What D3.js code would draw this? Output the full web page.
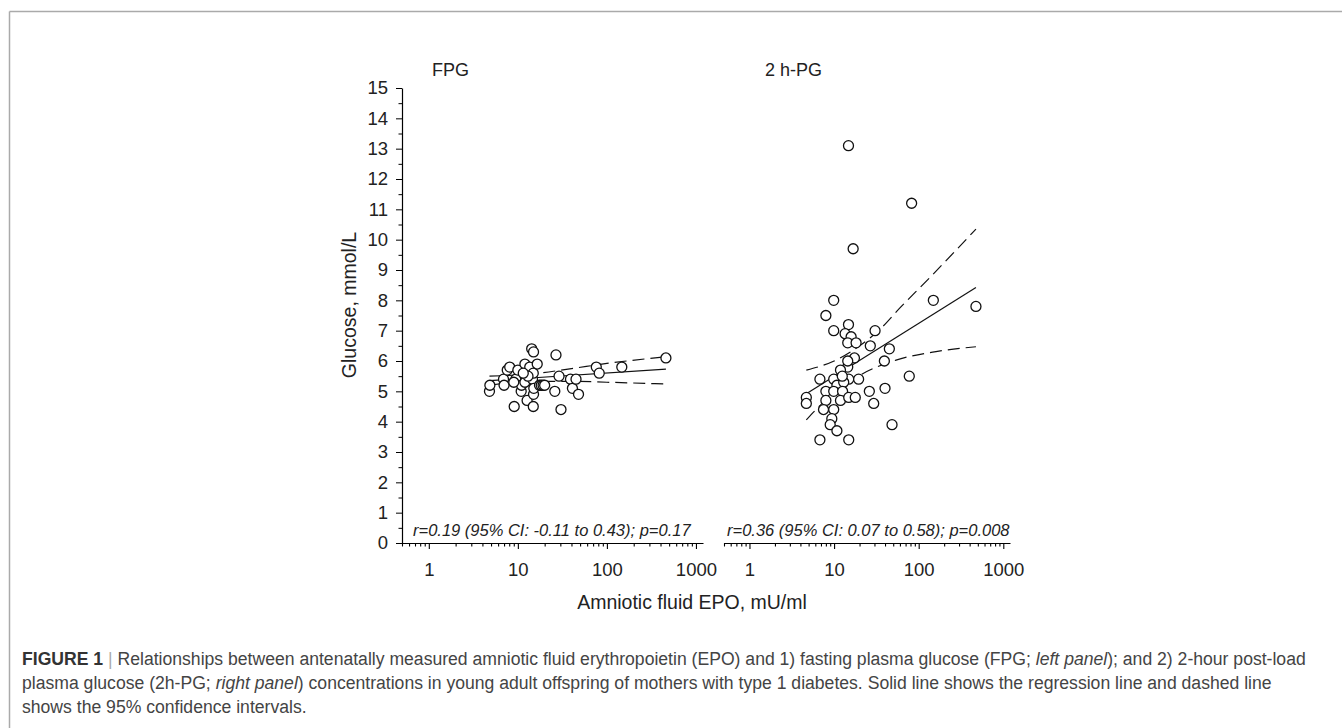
<!DOCTYPE html>
<html>
<head>
<meta charset="utf-8">
<script src="https://cdn.jsdelivr.net/npm/d3@7"></script>
<style>
  body { margin: 0; background: #fff; }
  svg text { font-family: Arial, "Liberation Sans", sans-serif; fill: #222; }
  .caption tspan { fill: #444; }
</style>
</head>
<body>
<div id="figure"></div>
<script>
// ---- data: [EPO mU/ml, glucose mmol/L] ----
var fpgPoints = [
  [4.8,5.0],[4.85,5.2],[6.9,5.4],[7.0,5.2],[7.6,5.7],[8.1,5.8],[9.1,4.5],[9.5,5.4],
  [10.0,5.7],[10.9,5.0],[11.0,5.2],[12.0,5.3],[12.0,5.9],[12.7,4.7],[13.6,5.8],[14.3,6.4],
  [14.6,5.4],[14.9,5.6],[15.0,4.9],[15.1,5.1],[14.9,4.5],[15.0,6.3],[16.5,5.9],[17.5,5.2],
  [18.3,5.2],[19.2,5.2],[20.0,5.2],[13.0,5.5],[11.5,5.6],[9.0,5.3],[26.0,5.0],[26.8,6.2],
  [29.0,5.5],[30.5,4.4],[39.0,5.4],[41.0,5.1],[45.0,5.4],[48.0,4.9],[76.0,5.8],[82.0,5.6],
  [147,5.8],[460,6.1]
];
var pgPoints = [
  [14.8,13.1],[82.5,11.2],[16.8,9.7],[9.9,8.0],[149,8.0],[475,7.8],[8.0,7.5],[14.8,7.2],
  [9.9,7.0],[13.5,6.9],[30.5,7.0],[15.9,6.8],[14.5,6.6],[18.2,6.6],[26.8,6.5],[45,6.4],
  [39.3,6.0],[17.4,6.1],[14.5,5.8],[11.9,5.7],[6.8,5.4],[9.9,5.4],[14.9,5.4],[19.5,5.4],
  [10.8,5.2],[13,5.3],[8.0,5.0],[9.9,5.0],[12.6,5.0],[26.1,5.0],[40,5.1],[77.4,5.5],
  [4.7,4.8],[4.7,4.6],[8.0,4.7],[11.9,4.7],[14.9,4.8],[17.8,4.8],[29.4,4.6],[7.5,4.4],
  [9.9,4.4],[9.4,4.1],[9.0,3.9],[10.8,3.7],[48.4,3.9],[6.8,3.4],[14.9,3.4],[14.5,6.0],[12.5,5.5]
];

// regression line and 95% CI curves
var fpgFit   = [[4.8,5.35],[460,5.73]];
var fpgUpper = [[4.8,5.5],[15,5.58],[40,5.75],[100,5.92],[460,6.14]];
var fpgLower = [[4.8,5.2],[15,5.33],[40,5.33],[100,5.3],[460,5.24]];
var pgFit    = [[4.7,4.92],[475,8.42]];
var pgUpper  = [[4.7,5.7],[10,6.0],[20,6.5],[35,7.05],[60,7.75],[130,8.7],[475,10.35]];
var pgLower  = [[4.7,4.06],[7.3,4.61],[12.6,5.15],[21.8,5.58],[54,6.03],[160,6.31],[475,6.47]];

var xMajorTicks = [1, 10, 100, 1000];
var yMajorTicks = d3.range(0, 16);
var yMinorTicks = d3.range(0.5, 15, 1);
var panelTitles = ["FPG", "2 h-PG"];
var statLabels = ["r=0.19 (95% CI: -0.11 to 0.43); p=0.17",
                  "r=0.36 (95% CI: 0.07 to 0.58); p=0.008"];

var width = 1342, height = 728;
var tickFont = "18.5px";

var svg = d3.select("#figure").append("svg")
    .attr("width", width)
    .attr("height", height);

//frame lines of the figure box
svg.append("line").attr("x1", 9.5).attr("x2", width).attr("y1", 11.5).attr("y2", 11.5)
    .attr("stroke", "#aaa").attr("stroke-width", 1.5);
svg.append("line").attr("x1", 9.5).attr("x2", 9.5).attr("y1", 11.5).attr("y2", height)
    .attr("stroke", "#aaa").attr("stroke-width", 1.5);

var y = d3.scaleLinear().domain([0, 15]).range([543, 88]);

/**
 * Constructor for one scatter panel
 */
function ScatterPanel(opts){
    var self = this;
    self.opts = opts;
    self.x = d3.scaleLog().domain([0.5, 1200]).range([opts.left, opts.right]);
    self.g = svg.append("g");
};

/**
 * Draws the x axis with major and minor ticks
 */
ScatterPanel.prototype.drawAxis = function(){
    var self = this;
    var minor = self.x.ticks().filter(function(t){ return xMajorTicks.indexOf(t) < 0; });

    var gMinor = self.g.append("g").attr("transform", "translate(0,543)")
        .call(d3.axisBottom(self.x).tickValues(minor).tickSize(3.5).tickSizeOuter(0).tickFormat(""));
    gMinor.select(".domain").attr("stroke-width", 1.2);

    var gMajor = self.g.append("g").attr("transform", "translate(0,543)")
        .call(d3.axisBottom(self.x).tickValues(xMajorTicks).tickSize(6).tickSizeOuter(0)
            .tickPadding(14).tickFormat(d3.format("d")));
    gMajor.select(".domain").remove();
    gMajor.selectAll("text").style("font-size", tickFont)
        .style("font-family", "Arial, 'Liberation Sans', sans-serif").attr("fill", "#222");
    self.g.selectAll(".tick line").attr("stroke-width", 1.1);
};

/**
 * Draws points, regression line and confidence curves
 */
ScatterPanel.prototype.update = function(points, fit, upper, lower){
    var self = this;
    var line = d3.line()
        .x(function(d){ return self.x(d[0]); })
        .y(function(d){ return y(d[1]); })
        .curve(d3.curveMonotoneX);

    self.g.append("path").datum(fit).attr("d", line)
        .attr("fill", "none").attr("stroke", "#111").attr("stroke-width", 1.2);
    [upper, lower].forEach(function(band){
        self.g.append("path").datum(band).attr("d", line)
            .attr("fill", "none").attr("stroke", "#111").attr("stroke-width", 1.2)
            .attr("stroke-dasharray", "12,6");
    });

    self.g.selectAll("circle").data(points).enter().append("circle")
        .attr("cx", function(d){ return self.x(d[0]); })
        .attr("cy", function(d){ return y(d[1]); })
        .attr("r", 5)
        .attr("fill", "#fff")
        .attr("stroke", "#111")
        .attr("stroke-width", 1.3);

    self.g.append("text")
        .attr("x", self.opts.titleX).attr("y", 76)
        .style("font-size", "18px")
        .text(self.opts.title);

    self.g.append("text")
        .attr("x", self.opts.statX).attr("y", 536)
        .style("font-size", "16.5px").style("font-style", "italic")
        .text(self.opts.stat);
};

var left = new ScatterPanel({left: 402, right: 703, title: panelTitles[0], titleX: 432,
                             stat: statLabels[0], statX: 413});
left.drawAxis();
left.update(fpgPoints, fpgFit, fpgUpper, fpgLower);

var right = new ScatterPanel({left: 724, right: 1010, title: panelTitles[1], titleX: 765,
                              stat: statLabels[1], statX: 727});
right.drawAxis();
right.update(pgPoints, pgFit, pgUpper, pgLower);

// y axis, only on the left panel
var gyMinor = svg.append("g").attr("transform", "translate(402,0)")
    .call(d3.axisLeft(y).tickValues(yMinorTicks).tickSize(3.5).tickSizeOuter(0).tickFormat(""));
gyMinor.select(".domain").attr("stroke-width", 1.2);
var gyMajor = svg.append("g").attr("transform", "translate(402,0)")
    .call(d3.axisLeft(y).tickValues(yMajorTicks).tickSize(6).tickSizeOuter(0).tickPadding(8));
gyMajor.select(".domain").remove();
gyMajor.selectAll("text").style("font-size", tickFont)
    .style("font-family", "Arial, 'Liberation Sans', sans-serif").attr("fill", "#222");

svg.append("text")
    .attr("transform", "translate(349,305) rotate(-90)")
    .attr("text-anchor", "middle")
    .attr("dominant-baseline", "central")
    .style("font-size", "19.5px")
    .text("Glucose, mmol/L");

svg.append("text")
    .attr("x", 692).attr("y", 609)
    .attr("text-anchor", "middle")
    .style("font-size", "19.5px")
    .text("Amniotic fluid EPO, mU/ml");

// caption
var cap = svg.append("text").attr("class", "caption").style("font-size", "17.6px");
var l1 = cap.append("tspan").attr("x", 22).attr("y", 665);
l1.append("tspan").style("font-weight", "bold").style("fill", "#333").text("FIGURE 1");
l1.append("tspan").style("fill", "#aaa").text(" | ");
l1.append("tspan").text("Relationships between antenatally measured amniotic fluid erythropoietin (EPO) and 1) fasting plasma glucose (FPG; ");
l1.append("tspan").style("font-style", "italic").text("left panel");
l1.append("tspan").text("); and 2) 2-hour post-load");
var l2 = cap.append("tspan").attr("x", 22).attr("y", 689);
l2.append("tspan").text("plasma glucose (2h-PG; ");
l2.append("tspan").style("font-style", "italic").text("right panel");
l2.append("tspan").text(") concentrations in young adult offspring of mothers with type 1 diabetes. Solid line shows the regression line and dashed line");
cap.append("tspan").attr("x", 22).attr("y", 713).text("shows the 95% confidence intervals.");
</script>
</body>
</html>
